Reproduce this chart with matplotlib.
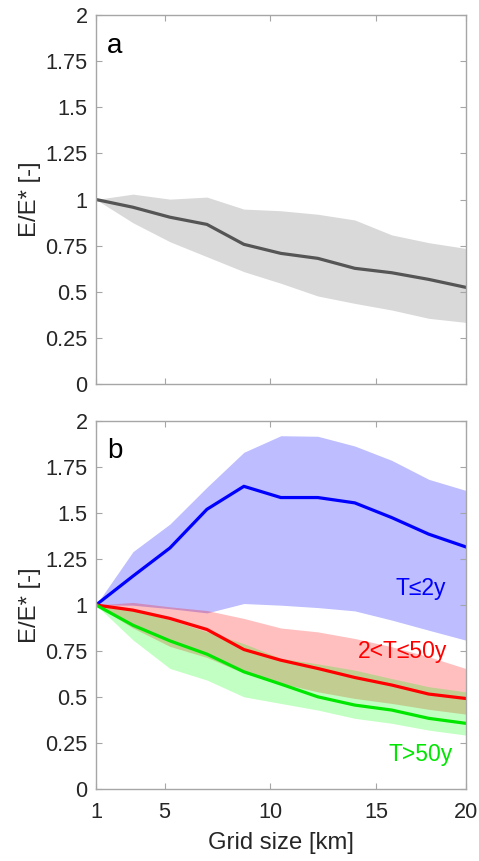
import matplotlib
matplotlib.use("Agg")
import matplotlib.pyplot as plt

plt.rcParams['font.family'] = ['Liberation Sans', 'DejaVu Sans']

# grid sizes of the evaluated points [km]
grid_km = [1.75, 3.5, 5.25, 7.0, 8.75, 10.5, 12.25, 14.0, 15.75, 17.5, 19.25]
xtick_pos = [1.75, 5, 10, 15, 19.25]
xtick_labels = ['1', '5', '10', '15', '20']
yticks = [0, 0.25, 0.5, 0.75, 1, 1.25, 1.5, 1.75, 2]
ytick_labels = ['0', '0.25', '0.5', '0.75', '1', '1.25', '1.5', '1.75', '2']

# panel a (all events)
all_mean = [1.0, 0.958, 0.904, 0.865, 0.757, 0.708, 0.681, 0.627, 0.603, 0.567, 0.524]
all_hi = [1.0, 1.029, 1.002, 1.013, 0.948, 0.939, 0.920, 0.889, 0.808, 0.766, 0.735]
all_lo = [1.0, 0.874, 0.771, 0.690, 0.609, 0.546, 0.477, 0.437, 0.401, 0.356, 0.334]

# panel b: T <= 2y
t1_mean = [1.0, 1.157, 1.31, 1.52, 1.645, 1.584, 1.584, 1.555, 1.475, 1.385, 1.316]
t1_hi = [1.0, 1.29, 1.44, 1.64, 1.83, 1.92, 1.917, 1.864, 1.786, 1.683, 1.623]
t1_lo = [1.0, 0.999, 0.98, 0.957, 1.008, 0.999, 0.986, 0.968, 0.918, 0.863, 0.809]

# 2 < T <= 50y
t2_mean = [1.0, 0.972, 0.927, 0.867, 0.758, 0.700, 0.655, 0.606, 0.565, 0.516, 0.492]
t2_hi = [1.0, 1.014, 0.99, 0.97, 0.927, 0.875, 0.854, 0.818, 0.773, 0.719, 0.655]
t2_lo = [1.0, 0.875, 0.775, 0.715, 0.630, 0.574, 0.528, 0.492, 0.465, 0.433, 0.407]

# T > 50y
t3_mean = [1.0, 0.89, 0.805, 0.733, 0.637, 0.570, 0.501, 0.456, 0.429, 0.384, 0.357]
t3_hi = [1.0, 0.97, 0.92, 0.854, 0.79, 0.71, 0.68, 0.646, 0.60, 0.556, 0.528]
t3_lo = [1.0, 0.81, 0.655, 0.592, 0.501, 0.465, 0.429, 0.384, 0.357, 0.320, 0.293]

labels = ['T≤2y', '2<T≤50y', 'T>50y']
label_x = [18.33, 18.38, 18.66]
label_y = [1.09, 0.746, 0.19]

W, H = 479, 861
fig = plt.figure(figsize=(W / 100, H / 100), dpi=100)
left = 96 / W
width = 369.7 / W
ax_a = fig.add_axes([left, (H - 384) / H, width, 369 / H])
ax_b = fig.add_axes([left, (H - 789) / H, width, 368 / H])

spine_c = '#a6a6a6'
text_c = '#262626'
tick_fs = 15.6
label_fs = 17.2

for ax in (ax_a, ax_b):
    ax.set_xlim(grid_km[0], grid_km[-1])
    ax.set_ylim(0, 2)
    ax.set_xticks(xtick_pos)
    ax.set_yticks(yticks)
    ax.set_yticklabels(ytick_labels)
    for s in ax.spines.values():
        s.set_color(spine_c)
        s.set_linewidth(1.0)
    ax.tick_params(direction='in', length=4, width=0.8, color=spine_c,
                   labelcolor=text_c, labelsize=tick_fs,
                   top=True, right=True)
    ax.tick_params(axis='x', pad=9)
    ax.tick_params(axis='y', pad=6)
    ax.set_ylabel('E/E* [-]', fontsize=label_fs, color=text_c, labelpad=3)

ax_a.set_xticklabels([])
ax_b.set_xticklabels(xtick_labels)
ax_b.set_xlabel('Grid size [km]', fontsize=label_fs, color=text_c, labelpad=7)

# panel a
ax_a.fill_between(grid_km, all_lo, all_hi, color='#d9d9d9', linewidth=0)
ax_a.plot(grid_km, all_mean, color='#555555', linewidth=2.3)
ax_a.text(0.03, 0.897, 'a', transform=ax_a.transAxes, fontsize=20,
          ha='left', va='baseline', color='black')

# panel b
ax_b.fill_between(grid_km, t1_lo, t1_hi, color='#0000ff', alpha=0.26, linewidth=0)
ax_b.fill_between(grid_km, t2_lo, t2_hi, color='#ff0000', alpha=0.25, linewidth=0)
ax_b.fill_between(grid_km, t3_lo, t3_hi, color='#00ff00', alpha=0.24, linewidth=0)
ax_b.plot(grid_km, t1_mean, color='#0000ff', linewidth=2.3)
ax_b.plot(grid_km, t2_mean, color='#ff0000', linewidth=2.3)
ax_b.plot(grid_km, t3_mean, color='#00e600', linewidth=2.3)
ax_b.text(0.03, 0.899, 'b', transform=ax_b.transAxes, fontsize=20,
          ha='left', va='baseline', color='black')

for lab, x, y, c in zip(labels, label_x, label_y, ['#0000ff', '#ff0000', '#00e600']):
    ax_b.text(x, y, lab, color=c, fontsize=16.5, ha='right', va='center')

fig.savefig('out.png', dpi=100)
